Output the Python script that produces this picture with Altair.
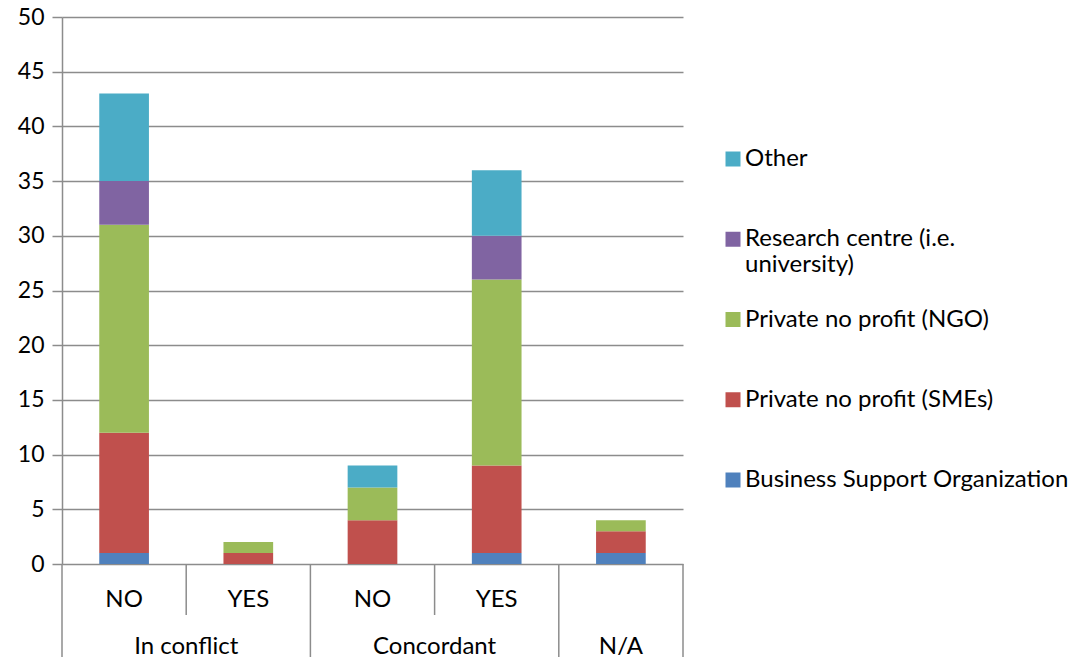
import altair as alt
import pandas as pd

# ---- data ----
groups = ["In conflict", "In conflict", "Concordant", "Concordant", "N/A"]
answers = ["NO", "YES", "NO", "YES", ""]
series = [
    "Business Support Organization",
    "Private no profit (SMEs)",
    "Private no profit (NGO)",
    "Research centre (i.e. university)",
    "Other",
]
bso = [1, 0, 0, 1, 1]
smes = [11, 1, 4, 8, 2]
ngo = [19, 1, 3, 17, 1]
research = [4, 0, 0, 4, 0]
other = [8, 0, 2, 6, 0]
colors = ["#4F81BD", "#C0504D", "#9BBB59", "#8064A2", "#4BACC6"]
y_ticks = list(range(0, 51, 5))

FONT = "Lato"
FS = 24
GRAY = "#8C8C8C"
W, H = 621, 547

values = [bso, smes, ngo, research, other]
n = len(answers)
rows = []
base = [0] * n
for s_i, (name, vals) in enumerate(zip(series, values)):
    for c_i, v in enumerate(vals):
        if v > 0:
            rows.append({"x0": c_i + 0.3, "x1": c_i + 0.7, "series": name,
                         "y0": base[c_i], "y1": base[c_i] + v, "value": v})
        base[c_i] += v
bars_df = pd.DataFrame(rows)

inner_df = pd.DataFrame({"pos": [i + 0.5 for i in range(n)], "label": answers})
outer = {}
for i, g in enumerate(groups):
    outer.setdefault(g, []).append(i + 0.5)
outer_df = pd.DataFrame({"pos": [sum(v) / len(v) for v in outer.values()],
                         "label": list(outer.keys())})
short_b, full_b = [], []
for b in range(n + 1):
    if b in (0, n) or groups[b - 1] != groups[b]:
        full_b.append(b)
    else:
        short_b.append(b)
short_df = pd.DataFrame({"pos": short_b})
full_df = pd.DataFrame({"pos": full_b})

xscale = alt.Scale(domain=[0, n], nice=False, zero=False)
legend_order = list(reversed(series))
long_name = series[3]
label_expr = (f"datum.label === '{long_name}' ? "
              f"['Research centre (i.e.', 'university)'] : datum.label")

bars = alt.Chart(bars_df).mark_bar().encode(
    x=alt.X("x0:Q", scale=xscale, axis=None),
    x2="x1",
    y=alt.Y("y0:Q", title=None,
            scale=alt.Scale(domain=[0, 50], nice=False),
            axis=alt.Axis(values=y_ticks, grid=True, gridColor=GRAY, gridWidth=1.5,
                          tickColor=GRAY, tickWidth=1.5, tickSize=10,
                          domainColor=GRAY, domainWidth=1.5,
                          labelFont=FONT, labelFontSize=23, labelColor="black",
                          labelPadding=8)),
    y2="y1",
    color=alt.Color("series:N", sort=legend_order,
                    scale=alt.Scale(domain=legend_order,
                                    range=list(reversed(colors))),
                    legend=alt.Legend(title=None, orient="none", legendX=659,
                                      legendY=130, symbolType="square",
                                      symbolSize=225, symbolStrokeWidth=0,
                                      labelFont=FONT, labelFontSize=FS,
                                      labelColor="black", labelLimit=400,
                                      labelOffset=0, rowPadding=30.25,
                                      gridAlign="all", padding=0,
                                      labelExpr=label_expr)),
    tooltip=["series:N", "value:Q"],
)

short_rules = alt.Chart(short_df).mark_rule(color=GRAY, strokeWidth=1.5).encode(
    x=alt.X("pos:Q", scale=xscale, axis=None),
    y=alt.value(H), y2=alt.value(H + 51))
full_rules = alt.Chart(full_df).mark_rule(color=GRAY, strokeWidth=1.5).encode(
    x=alt.X("pos:Q", scale=xscale, axis=None),
    y=alt.value(H), y2=alt.value(H + 110))
inner_text = alt.Chart(inner_df).mark_text(font=FONT, fontSize=FS, color="black",
                                           baseline="alphabetic").encode(
    x=alt.X("pos:Q", scale=xscale, axis=None), y=alt.value(H + 43), text="label:N")
outer_text = alt.Chart(outer_df).mark_text(font=FONT, fontSize=FS, color="black",
                                           baseline="alphabetic").encode(
    x=alt.X("pos:Q", scale=xscale, axis=None), y=alt.value(H + 90), text="label:N")

chart = alt.layer(bars, short_rules, full_rules, inner_text, outer_text).properties(
    width=W, height=H,
    background="white",
    autosize=alt.AutoSizeParams(type="none"),
    padding={"left": 54, "top": 9, "right": 389, "bottom": 93},
).configure_view(stroke=None)

chart.save("out.html", embed_options={"renderer": "svg", "actions": False})
